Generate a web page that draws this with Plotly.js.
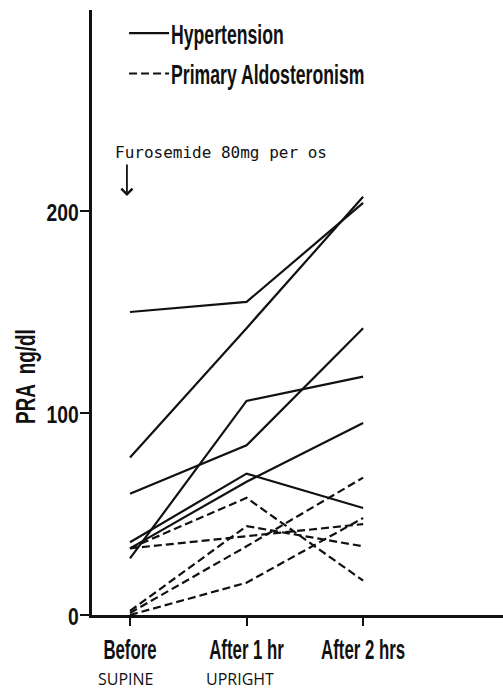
<!DOCTYPE html>
<html>
<head>
<meta charset="utf-8">
<script src="https://cdn.plot.ly/plotly-3.0.1.min.js"></script>
<style>
  html, body { margin: 0; padding: 0; background: #fff; }
  #chart { width: 503px; height: 690px; }
</style>
</head>
<body>
<div id="chart"></div>
<script>
// ---- data ----
const timepoints = ['Before', 'After 1 hr', 'After 2 hrs'];
const timeIndex = [0, 1, 2];
const phaseLabels = ['SUPINE', 'UPRIGHT'];
const yTickValues = [0, 100, 200];
const groupNames = ['Hypertension', 'Primary Aldosteronism'];
// PRA ng/dl for each patient (Before, After 1 hr, After 2 hrs)
const hypertension = [
  [150, 155, 204],
  [78, 142, 207],
  [60, 84, 142],
  [28, 106, 118],
  [36, 70, 53],
  [33, 66, 95]
];
const aldosteronism = [
  [33, 58, 17],
  [33, 39, 45],
  [2, 44, 34],
  [1, 34, 68],
  [0, 16, 48]
];
const noteText = 'Furosemide 80mg per os';
const yTitle = 'PRA  ng/dl';

// ---- styling ----
const BOLD = '"Liberation Sans", Arial, sans-serif';
const INK = '#111';

const traces = [];
hypertension.forEach((vals, i) => {
  traces.push({
    x: timeIndex, y: vals, type: 'scatter', mode: 'lines',
    name: groupNames[0], legendgroup: 'g1', showlegend: i === 0,
    line: { color: INK, width: 2.2 },
    hoverinfo: 'skip'
  });
});
aldosteronism.forEach((vals, i) => {
  traces.push({
    x: timeIndex, y: vals, type: 'scatter', mode: 'lines',
    name: groupNames[1], legendgroup: 'g2', showlegend: i === 0,
    line: { color: INK, width: 2.2, dash: '8px,4px' },
    hoverinfo: 'skip'
  });
});

const layout = {
  width: 503, height: 690,
  margin: { l: 92, r: 0, t: 10, b: 75 },
  paper_bgcolor: '#fff', plot_bgcolor: '#fff',
  showlegend: true,
  legend: {
    x: 0.078, y: 0.995, xanchor: 'left', yanchor: 'top',
    bgcolor: 'rgba(0,0,0,0)', borderwidth: 0,
    font: { family: BOLD, size: 21, color: INK, weight: 'bold' },
    traceorder: 'grouped', tracegroupgap: 10
  },
  xaxis: {
    range: [-0.326, 3.2],
    tickmode: 'array', tickvals: timeIndex, ticktext: timepoints,
    ticks: 'outside', ticklen: 8, tickwidth: 2, tickcolor: INK,
    showline: true, linewidth: 3, linecolor: INK,
    showgrid: false, zeroline: false,
    tickfont: { family: BOLD, size: 21, color: INK, weight: 'bold' },
    ticklabelstandoff: 5
  },
  yaxis: {
    range: [0, 299.5],
    tickmode: 'array', tickvals: yTickValues, ticktext: yTickValues.map(String),
    ticks: 'outside', ticklen: 9, tickwidth: 2, tickcolor: INK,
    showline: true, linewidth: 3, linecolor: INK,
    showgrid: false, zeroline: false,
    tickfont: { family: BOLD, size: 21, color: INK, weight: 'bold' }
  },
  annotations: [
    {
      // y-axis title (index 0)
      xref: 'paper', yref: 'paper', x: -0.163, y: 0.393,
      xanchor: 'center', yanchor: 'middle', showarrow: false, textangle: -90,
      text: yTitle,
      font: { family: BOLD, size: 21, color: INK, weight: 'bold' }
    },
    {
      xref: 'paper', yref: 'paper', x: 0.051, y: 0.765,
      xanchor: 'left', yanchor: 'middle', showarrow: false,
      text: noteText,
      font: { family: '"DejaVu Sans Mono", "Liberation Mono", monospace', size: 16, color: INK }
    },
    {
      xref: 'paper', yref: 'paper', x: 0.085, y: 0.6925,
      text: '', showarrow: true, ax: 0, ay: -33,
      arrowhead: 4, arrowsize: 1.2, arrowwidth: 1.8, arrowcolor: INK
    },
    {
      xref: 'x', yref: 'paper', x: timeIndex[0] - 0.04, y: -0.106,
      xanchor: 'center', yanchor: 'middle', showarrow: false,
      text: phaseLabels[0],
      font: { family: '"Open Sans", "Liberation Sans", sans-serif', size: 16, color: INK }
    },
    {
      xref: 'x', yref: 'paper', x: timeIndex[1] - 0.06, y: -0.106,
      xanchor: 'center', yanchor: 'middle', showarrow: false,
      text: phaseLabels[1],
      font: { family: '"Open Sans", "Liberation Sans", sans-serif', size: 16, color: INK }
    }
  ]
};

// Narrow/tall lettering like the original typeset labels
function squash(el, sx, sy, anchor, dx, dy) {
  const bb = el.getBBox();
  const cx = anchor === 'left' ? bb.x : anchor === 'right' ? bb.x + bb.width : bb.x + bb.width / 2;
  const cy = bb.y + bb.height / 2;
  const prev = el.getAttribute('transform') || '';
  el.setAttribute('transform',
    prev + ' translate(' + ((dx || 0) + cx) + ',' + ((dy || 0) + cy) + ') scale(' + sx + ',' + sy + ') translate(' + (-cx) + ',' + (-cy) + ')');
}

Plotly.newPlot('chart', traces, layout, { staticPlot: true, displayModeBar: false }).then(gd => {
  gd.querySelectorAll('.xtick text').forEach(t => squash(t, 0.8, 1.35, 'center', 0, 0));
  gd.querySelectorAll('.ytick text').forEach(t => squash(t, 0.92, 1.1, 'right', 3, 2));
  gd.querySelectorAll('.legend .legendlines path').forEach(p => {
    const d = p.getAttribute('d');
    if (d) p.setAttribute('d', d.replace('h30', 'h40'));
  });
  gd.querySelectorAll('.legend .legendtext').forEach(t => {
    squash(t, 0.84, 1.3, 'left', 7, 0);
  });
  const yt = gd.querySelector('g.annotation[data-index="0"] text');
  if (yt) squash(yt, 0.9, 1.3, 'center', 0, 0);
});
</script>
</body>
</html>
